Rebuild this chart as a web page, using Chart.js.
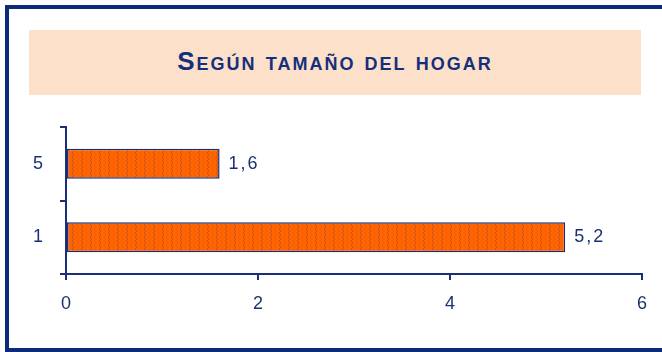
<!DOCTYPE html>
<html>
<head>
<meta charset="utf-8">
<script src="https://cdn.jsdelivr.net/npm/chart.js@4.4.1/dist/chart.umd.min.js"></script>
<style>
  html, body { margin: 0; padding: 0; width: 662px; height: 352px; overflow: hidden; background: #ffffff; }
  #frame { position: absolute; left: 5px; top: 5px; width: 700px; height: 347px; box-sizing: border-box;
           border: 4px solid #0c2a7a; }
  #title { position: absolute; left: 29px; top: 30px; width: 612px; height: 65px; background: #fde0c9;
           color: #15307a; font-family: "Liberation Sans", Arial, sans-serif; font-weight: bold; font-size: 26px;
           font-variant: small-caps; text-align: center; line-height: 62px; letter-spacing: 2px; }
  #wrap { position: absolute; left: 0; top: 0; width: 662px; height: 352px; }
</style>
</head>
<body>
<div id="frame"></div>
<div id="title">Según tamaño del hogar</div>
<div id="wrap"><canvas id="c" width="662" height="352"></canvas></div>
<script>
const categories = ['5', '1'];
const values = [1.6, 5.2];
const valueLabels = ['1,6', '5,2'];
const xTicks = [0, 2, 4, 6];

const NAVY = '#1b2f78';
const TEXT = '#1d3172';

function makePattern() {
  const p = document.createElement('canvas');
  p.width = 9; p.height = 4;
  const g = p.getContext('2d');
  g.fillStyle = '#ff6400';
  g.fillRect(0, 0, 9, 4);
  g.fillStyle = '#c9561c';
  g.fillRect(0, 0, 1, 2);
  g.fillRect(1, 2, 1, 2);
  g.fillStyle = '#e85f10';
  g.fillRect(5, 1, 1, 2);
  return document.getElementById('c').getContext('2d').createPattern(p, 'repeat');
}

const valueLabelPlugin = {
  id: 'valueLabels',
  afterDatasetsDraw(chart) {
    const ctx = chart.ctx;
    const meta = chart.getDatasetMeta(0);
    ctx.save();
    ctx.font = '18px "Liberation Sans", Arial, sans-serif';
    ctx.fillStyle = TEXT;
    ctx.textAlign = 'left';
    ctx.textBaseline = 'middle';
    if ('letterSpacing' in ctx) ctx.letterSpacing = '2px';
    meta.data.forEach((bar, i) => {
      ctx.fillText(valueLabels[i], bar.x + 9, bar.y);
    });
    ctx.restore();
  }
};

new Chart(document.getElementById('c'), {
  type: 'bar',
  data: {
    labels: categories,
    datasets: [{
      data: values,
      backgroundColor: makePattern(),
      borderColor: NAVY,
      borderWidth: 1.5,
      borderSkipped: false,
      barPercentage: 0.41,
      categoryPercentage: 1
    }]
  },
  options: {
    indexAxis: 'y',
    responsive: false,
    animation: false,
    devicePixelRatio: 1,
    layout: { padding: { left: 16, top: 127, right: 20, bottom: 38 } },
    plugins: { legend: { display: false }, tooltip: { enabled: false }, title: { display: false } },
    scales: {
      x: {
        min: 0, max: 6,
        afterBuildTicks(scale) { scale.ticks = xTicks.map(v => ({ value: v })); },
        afterFit(scale) { scale.height = 40; },
        grid: { drawOnChartArea: false, drawTicks: true, tickLength: 6, color: NAVY, lineWidth: 2 },
        border: { display: true, color: NAVY, width: 2 },
        ticks: { color: TEXT, font: { family: '"Liberation Sans", Arial, sans-serif', size: 18 }, padding: 13,
                 callback: v => String(v) }
      },
      y: {
        afterFit(scale) { scale.width = 50; },
        grid: { drawOnChartArea: false, drawTicks: true, tickLength: 6, color: NAVY, lineWidth: 2, offset: true },
        border: { display: true, color: NAVY, width: 2 },
        ticks: { color: TEXT, font: { family: '"Liberation Sans", Arial, sans-serif', size: 18 }, padding: 17 }
      }
    }
  },
  plugins: [valueLabelPlugin]
});
</script>
</body>
</html>
